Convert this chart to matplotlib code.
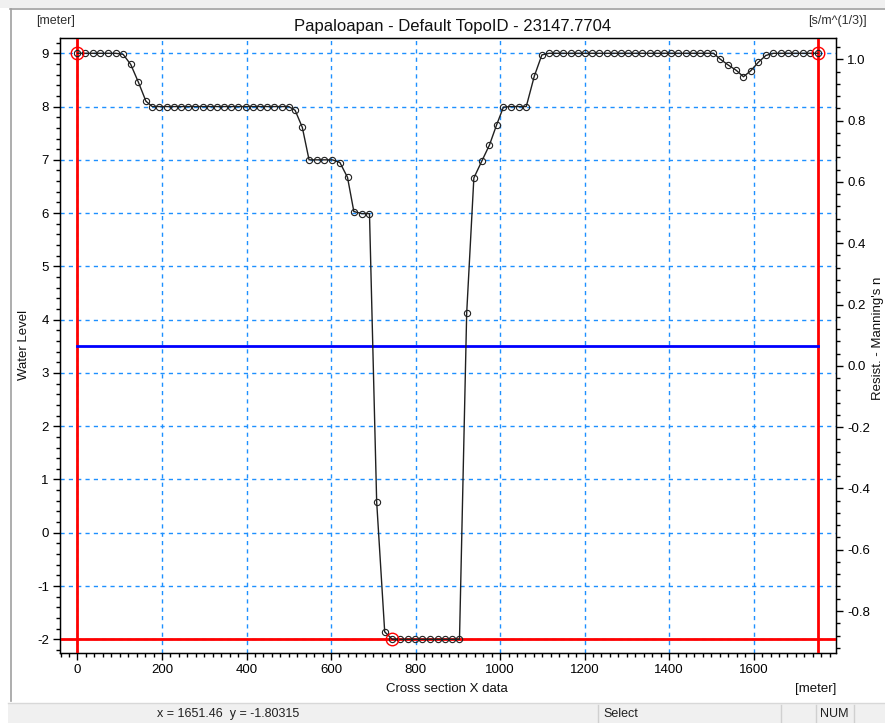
import matplotlib
matplotlib.use("Agg")
import matplotlib.pyplot as plt
from matplotlib.lines import Line2D
from matplotlib.patches import Rectangle

plt.rcParams['font.family'] = ['Liberation Sans', 'DejaVu Sans']

# ---------------- data ----------------
title = "Papaloapan - Default TopoID - 23147.7704"
station = [0, 18, 36, 54, 72, 90, 108, 126, 144, 162,
           177, 194, 211, 228, 245, 262, 279, 296, 313, 330,
           347, 364, 381, 398, 415, 432, 449, 466, 483, 500,
           515, 532, 548, 566, 584, 603, 621, 639, 654, 673,
           691, 708, 727, 745, 763, 781, 799, 816, 834, 852,
           870, 887, 904, 921, 938, 957, 975, 992, 1008, 1026,
           1045, 1062, 1081, 1099, 1116, 1133, 1150, 1167, 1184, 1201,
           1218, 1235, 1252, 1269, 1286, 1303, 1320, 1337, 1354, 1371,
           1388, 1405, 1422, 1439, 1456, 1473, 1490, 1505, 1521, 1540,
           1559, 1576, 1593, 1611, 1629, 1647, 1664, 1682, 1699, 1717,
           1734, 1752]
elevation = [9.0, 9.0, 9.0, 9.0, 9.0, 9.0, 8.98, 8.79, 8.46, 8.10,
             8.0, 8.0, 8.0, 8.0, 8.0, 8.0, 8.0, 8.0, 8.0, 8.0,
             8.0, 8.0, 8.0, 8.0, 8.0, 8.0, 8.0, 8.0, 8.0, 8.0,
             7.93, 7.61, 7.0, 7.0, 7.0, 7.0, 6.95, 6.67, 6.03, 5.99,
             5.99, 0.58, -1.86, -2.0, -2.0, -2.0, -2.0, -2.0, -2.0, -2.0,
             -2.0, -2.0, -2.0, 4.12, 6.66, 6.98, 7.28, 7.66, 7.99, 8.0,
             8.0, 8.0, 8.57, 8.97, 9.0, 9.0, 9.0, 9.0, 9.0, 9.0,
             9.0, 9.0, 9.0, 9.0, 9.0, 9.0, 9.0, 9.0, 9.0, 9.0,
             9.0, 9.0, 9.0, 9.0, 9.0, 9.0, 9.0, 9.0, 8.89, 8.78,
             8.68, 8.56, 8.67, 8.83, 8.96, 9.0, 9.0, 9.0, 9.0, 9.0,
             9.0, 9.0]
water_level = 3.5
water_x = [0, 1752]
left_bank_x = 0
right_bank_x = 1752
bottom_level = -2.0
marker_x = [0, 745, 1752]
marker_y = [9.0, -2.0, 9.0]
xticks = [0, 200, 400, 600, 800, 1000, 1200, 1400, 1600]
yticks = [-2, -1, 0, 1, 2, 3, 4, 5, 6, 7, 8, 9]
rticks = [-0.8, -0.6, -0.4, -0.2, 0.0, 0.2, 0.4, 0.6, 0.8, 1.0]
status_xy = "x = 1651.46  y = -1.80315"

# ---------------- figure ----------------
W, H = 885, 723
fig = plt.figure(figsize=(W / 100, H / 100), dpi=100)
fig.patch.set_facecolor('white')

def fx(px):
    return px / W

def fy(py):
    return 1 - py / H

# window chrome
fig.add_artist(Rectangle((0, fy(8)), 1, 8 / H, transform=fig.transFigure,
                         facecolor='#f0f0f0', edgecolor='none', zorder=0))
fig.add_artist(Line2D([fx(10), 1], [fy(9), fy(9)], transform=fig.transFigure,
                      color='#a0a0a0', lw=1.2))
fig.add_artist(Line2D([fx(11), fx(11)], [fy(9), fy(701)], transform=fig.transFigure,
                      color='#a0a0a0', lw=1.2))
fig.add_artist(Rectangle((fx(8), 0), 1, 20 / H, transform=fig.transFigure,
                         facecolor='#f0f0f0', edgecolor='none', zorder=0))
fig.add_artist(Line2D([fx(8), 1], [fy(703), fy(703)], transform=fig.transFigure,
                      color='#d8d8d8', lw=1))
for sx in [598, 781, 816, 854]:
    fig.add_artist(Line2D([fx(sx), fx(sx)], [fy(705), fy(722)], transform=fig.transFigure,
                          color='#d0d0d0', lw=1))
fig.text(fx(157), fy(714), status_xy, fontsize=9, va='center', ha='left', color='#202020')
fig.text(fx(603), fy(714), "Select", fontsize=9, va='center', ha='left', color='#202020')
fig.text(fx(820), fy(714), "NUM", fontsize=9, va='center', ha='left', color='#202020')

# axes
left, right, top, bottom = 60, 836, 38, 653
ax = fig.add_axes([fx(left), fy(bottom), (right - left) / W, (bottom - top) / H])
ax.set_xlim(-41.4, 1795)
ax.set_ylim(-2.257, 9.287)

ax.set_xticks(xticks)
ax.set_xticks([v for v in range(-40, 1800, 20)], minor=True)
ax.set_yticks(yticks)
ax.set_yticks([v / 5 for v in range(-11, 47)], minor=True)
ax.tick_params(axis='both', which='major', length=5, width=1, direction='out',
               labelsize=9.5, colors='black', pad=3)
ax.tick_params(axis='both', which='minor', length=3, width=1, direction='out')
ax.set_xticklabels([str(v) for v in xticks])
ax.set_yticklabels([str(v) for v in yticks])
ax.grid(True, which='major', color='#1e90ff', linestyle=(0, (3, 3)), lw=1)
for s in ax.spines.values():
    s.set_color('black')
    s.set_linewidth(1)

# red bank / bottom lines
ax.axvline(left_bank_x, color='red', lw=2, zorder=3)
ax.axvline(right_bank_x, color='red', lw=2, zorder=3)
ax.axhline(bottom_level, color='red', lw=2, zorder=3)

# water level
ax.plot(water_x, [water_level, water_level], color='blue', lw=2, zorder=4)

# cross-section profile
ax.plot(station, elevation, color='#202020', lw=1, marker='o', ms=4.5,
        mfc='none', mec='#202020', mew=0.8, zorder=5)
ax.plot(marker_x, marker_y, linestyle='none', marker='o', ms=9, mfc='none',
        mec='red', mew=1, zorder=6)

# right axis
ax2 = ax.twinx()
ax2.set_ylim(-0.937, 1.0695)
ax2.set_yticks(rticks)
ax2.set_yticks([v / 25 for v in range(-23, 27)], minor=True)
ax2.set_yticklabels([f"{v:.1f}" for v in rticks])
ax2.tick_params(axis='y', which='major', length=5, width=1, direction='out',
                labelsize=9.5, pad=3)
ax2.tick_params(axis='y', which='minor', length=3, width=1, direction='out')
ax2.spines['top'].set_visible(True)

# titles and labels
fig.text(fx(453), fy(27), title, fontsize=12, ha='center', va='center', color='#101010')
fig.text(fx(36), fy(21), "[meter]", fontsize=9, ha='left', va='center', color='#303030')
fig.text(fx(867), fy(21), "[s/m^(1/3)]", fontsize=9, ha='right', va='center', color='#303030')
fig.text(fx(24), fy(345), "Water Level", fontsize=9.5, ha='center', va='center',
         rotation=90, color='#101010')
fig.text(fx(878), fy(338), "Resist. - Manning's n", fontsize=9.5, ha='center', va='center',
         rotation=90, color='#101010')
fig.text(fx(447), fy(689), "Cross section X data", fontsize=9.5, ha='center', va='center',
         color='#101010')
fig.text(fx(836), fy(689), "[meter]", fontsize=9.5, ha='right', va='center', color='#101010')

fig.savefig("out.png", dpi=100)
